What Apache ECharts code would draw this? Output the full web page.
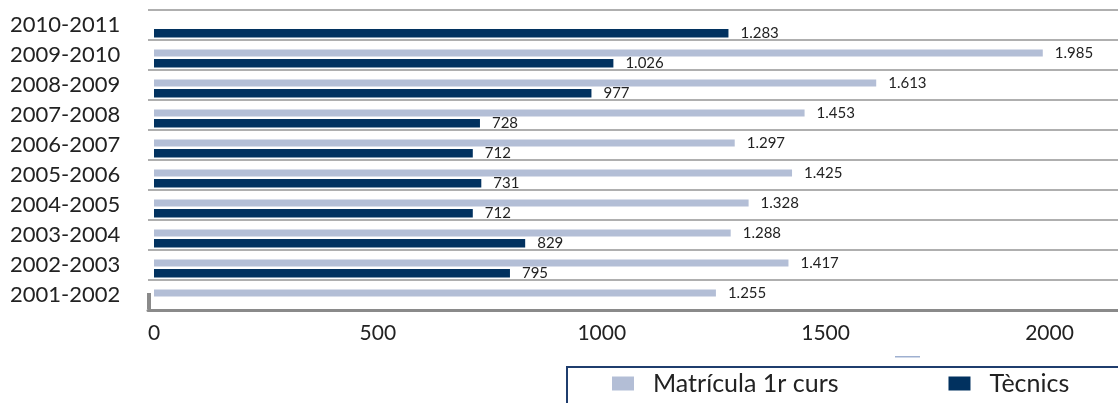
<!DOCTYPE html>
<html>
<head>
<meta charset="utf-8">
<script src="https://cdn.jsdelivr.net/npm/echarts@6/dist/echarts.min.js"></script>
<style>html,body{margin:0;padding:0;background:#fff}#c{width:1118px;height:403px}</style>
</head>
<body>
<div id="c"></div>
<script>
const categories = ['2001-2002','2002-2003','2003-2004','2004-2005','2005-2006','2006-2007','2007-2008','2008-2009','2009-2010','2010-2011'];
const matricula = [1255, 1417, 1288, 1328, 1425, 1297, 1453, 1613, 1985, null];
const tecnics   = [null, 795, 829, 712, 731, 712, 728, 977, 1026, 1283];
const seriesNames = ['Matrícula 1r curs', 'Tècnics'];

const FONT = 'Lato';
function fmt(v) {
  if (v >= 1000) return Math.floor(v / 1000) + '.' + String(v % 1000).padStart(3, '0');
  return String(v);
}
const chart = echarts.init(document.getElementById('c'));
chart.setOption({
  animation: false,
  backgroundColor: '#fff',
  grid: [
    { left: 154, right: 0, top: 13.5, height: 300 },
    { left: 148, right: 0, top: 10, height: 300 }
  ],
  xAxis: [
    { type: 'value', gridIndex: 0, min: 0, max: 2153, interval: 500,
      axisLine: { show: false }, axisTick: { show: false }, splitLine: { show: false },
      axisLabel: { show: true, showMaxLabel: false, margin: 9, fontSize: 21, fontFamily: FONT, color: '#222',
                   formatter: v => String(v) } },
    { type: 'value', gridIndex: 1, min: 0, max: 1,
      axisLine: { show: true, lineStyle: { color: '#8a8a8a', width: 3 } },
      axisTick: { show: false }, splitLine: { show: false }, axisLabel: { show: false } }
  ],
  yAxis: [
    { type: 'category', gridIndex: 0, data: categories, show: false },
    { type: 'category', gridIndex: 1, data: categories,
      axisLine: { show: false }, axisTick: { show: false },
      splitLine: { show: true, lineStyle: { color: '#959595', width: 1.6 } },
      axisLabel: { align: 'left', margin: 138, fontSize: 22, fontFamily: FONT, color: '#222', padding: [0, 0, 4, 0] } }
  ],
  legend: {
    data: seriesNames,
    left: 612, top: 371,
    width: 600,
    itemWidth: 22, itemHeight: 14, itemGap: 110,
    padding: 0,
    icon: 'rect',
    textStyle: { fontSize: 25, fontFamily: FONT, color: '#222', padding: [0, 0, 0, 14] }
  },
  series: [
    { name: seriesNames[0], type: 'bar', xAxisIndex: 0, yAxisIndex: 0, data: matricula,
      barWidth: 7, barGap: '36%', itemStyle: { color: '#b3bed6' },
      label: { show: true, position: 'right', distance: 12, fontSize: 15, fontFamily: FONT, color: '#222',
               formatter: p => fmt(p.value) } },
    { name: seriesNames[1], type: 'bar', xAxisIndex: 0, yAxisIndex: 0, data: tecnics,
      barWidth: 8.5, barGap: '36%', itemStyle: { color: '#01315f' },
      label: { show: true, position: 'right', distance: 12, fontSize: 15, fontFamily: FONT, color: '#222',
               formatter: p => fmt(p.value) } }
  ],
  graphic: [
    { type: 'rect', shape: { x: 147, y: 293, width: 4, height: 16 }, style: { fill: '#8a8a8a' } },
    { type: 'rect', shape: { x: 895, y: 356, width: 25, height: 1.5 }, style: { fill: '#9fb0d0' } },
    { type: 'rect', shape: { x: 567, y: 367, width: 600, height: 60 }, style: { fill: 'none', stroke: '#1f3d6d', lineWidth: 2 } }
  ]
});
</script>
</body>
</html>
